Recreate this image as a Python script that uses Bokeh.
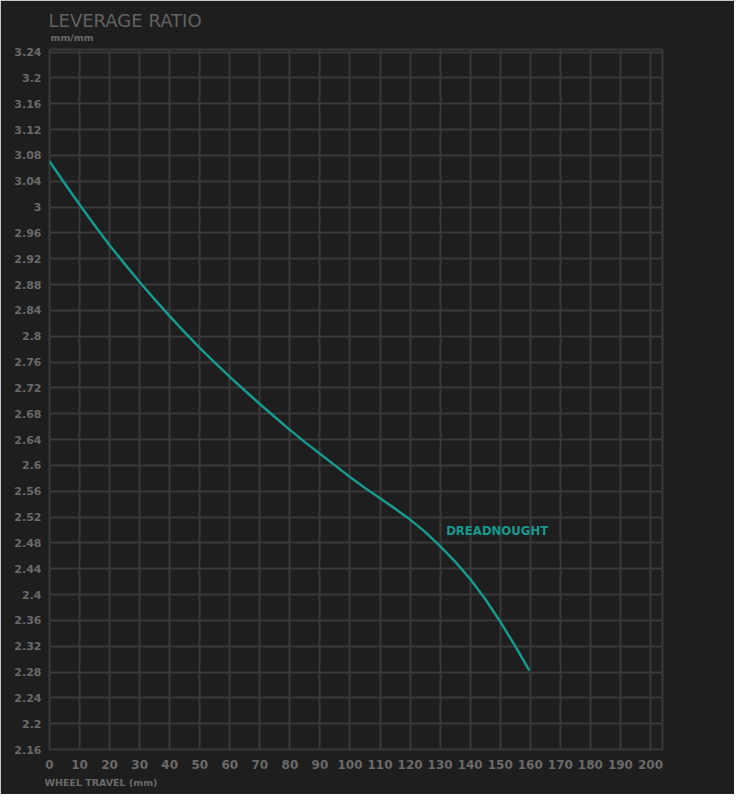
from bokeh.plotting import figure
from bokeh.models import Range1d, FixedTicker, Label, Title
from bokeh.embed import file_html
from bokeh.resources import INLINE

# Data
travel = [0, 5, 10, 15, 20, 25, 30, 35, 40, 45, 50, 55, 60, 65, 70, 75, 80, 85, 90,
          95, 100, 105, 110, 115, 120, 125, 130, 135, 140, 145, 150, 155, 159.7]
ratio = [3.071, 3.037, 3.004, 2.972, 2.941, 2.912, 2.884, 2.857, 2.831, 2.806, 2.782,
         2.759, 2.737, 2.716, 2.695, 2.675, 2.655, 2.636, 2.618, 2.600, 2.582, 2.565,
         2.549, 2.533, 2.516, 2.497, 2.475, 2.451, 2.424, 2.393, 2.358, 2.320, 2.282]
series_name = "DREADNOUGHT"

x_ticks = list(range(0, 201, 10))
y_ticks = [round(2.16 + 0.04 * i, 2) for i in range(28)]
y_tick_labels = [f"{v:g}" for v in y_ticks]

BG = "#1e1e1e"
GRID = "#393939"
TXT = "#6a6a6a"
TEAL = "#17998e"
FONT = "DejaVu Sans"

p = figure(width=734, height=794, output_backend="svg", toolbar_location=None,
           x_range=Range1d(0, 204), y_range=Range1d(2.16, 3.244),
           min_border_left=49, min_border_top=49, min_border_right=72, min_border_bottom=45)
p.title_location = None
p.background_fill_color = BG
p.border_fill_color = BG
p.outline_line_color = GRID
p.outline_line_width = 2

p.xgrid.grid_line_color = GRID
p.ygrid.grid_line_color = GRID
p.xgrid.grid_line_width = 2
p.ygrid.grid_line_width = 2

p.xaxis.ticker = FixedTicker(ticks=x_ticks)
p.yaxis.ticker = FixedTicker(ticks=y_ticks)
p.yaxis.major_label_overrides = {v: s for v, s in zip(y_ticks, y_tick_labels)}
for ax in (p.xaxis, p.yaxis):
    ax.axis_line_color = None
    ax.major_tick_line_color = None
    ax.minor_tick_line_color = None
    ax.major_tick_out = 0
    ax.major_tick_in = 0
    ax.minor_tick_out = 0
    ax.major_label_text_color = TXT
    ax.major_label_text_font = FONT
    ax.major_label_text_font_style = "bold"
p.yaxis.major_label_text_font_size = "11px"
p.xaxis.major_label_text_font_size = "12px"
p.yaxis.major_label_standoff = 8
p.xaxis.major_label_standoff = 10

p.line(travel, ratio, line_color=TEAL, line_width=2.5, line_join="round")

p.add_layout(Label(x=132, y=2.499, text=series_name, text_color=TEAL,
                   text_font=FONT, text_font_style="bold", text_font_size="11.7px",
                   text_baseline="middle", text_align="left"))

p.add_layout(Title(text="mm/mm", text_color=TXT, text_font=FONT, text_font_style="bold",
                   text_font_size="9.5px", align="left", offset=1, standoff=14), "above")
p.add_layout(Title(text="LEVERAGE RATIO", text_color="#626262", text_font=FONT,
                   text_font_style="normal", text_font_size="18px", align="left",
                   offset=-1, standoff=-16), "above")
p.add_layout(Title(text="WHEEL TRAVEL (mm)", text_color=TXT, text_font=FONT,
                   text_font_style="bold", text_font_size="9.5px", align="left",
                   offset=-5, standoff=6), "below")

open("out.html", "w").write(file_html(p, INLINE))
